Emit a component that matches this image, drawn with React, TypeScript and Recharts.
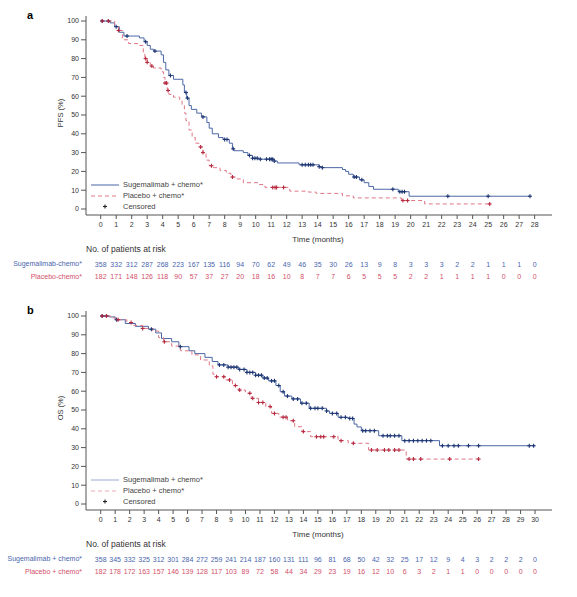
import React from "react";
import { ComposedChart, Line, Scatter, XAxis, YAxis } from "recharts";

// ---- panel a : PFS ----
const pfsMonths = [0, 1, 2, 3, 4, 5, 6, 7, 8, 9, 10, 11, 12, 13, 14, 15, 16, 17, 18, 19, 20, 21, 22, 23, 24, 25, 26, 27, 28];
const pfsSugTime = [0, 0.6, 0.9, 1.2, 1.5, 2.5, 2.8, 3.0, 3.2, 3.4, 3.9, 4.05, 4.2, 4.4, 4.7, 5.3, 5.4, 5.55, 5.7, 5.85, 6.2, 6.5, 6.85, 7.0, 7.2, 7.6, 7.9, 8.3, 8.5, 8.6, 9.2, 9.5, 9.8, 10.2, 11.2, 11.4, 12.8, 14.1, 14.3, 15.6, 15.8, 16.0, 16.3, 16.7, 17.0, 17.3, 17.6, 19.2, 19.9, 27.7];
const pfsSugPct = [100, 99, 97, 94, 92, 91, 89, 87, 85, 84, 82, 78, 74, 71, 69, 66, 62, 59, 55, 53, 51, 49, 46, 43, 40, 38, 37, 35, 32, 31, 30, 28.5, 27, 26.5, 25.5, 24.5, 23.5, 22.5, 22, 21, 20, 18.5, 17, 15.5, 14, 12, 10.5, 9.2, 6.8, 6.8];
const pfsPlaTime = [0, 0.9, 1.15, 1.4, 1.8, 2.5, 2.75, 2.85, 3.0, 3.2, 3.4, 3.9, 4.05, 4.15, 4.3, 4.4, 4.7, 5.1, 5.25, 5.4, 5.5, 5.7, 5.9, 6.1, 6.35, 6.6, 6.8, 7.0, 7.2, 7.7, 8.1, 8.4, 8.8, 9.2, 10.2, 10.6, 12.2, 13.4, 13.9, 15.6, 16.3, 19.4, 20.9, 25.2];
const pfsPlaPct = [100, 97, 95, 90, 88, 87, 83, 80, 78, 76, 75, 73, 70, 67, 63, 61, 59.5, 58, 55, 51, 47, 42, 38, 35, 33, 30, 26, 23, 22, 20.5, 19, 17, 16, 14, 13, 11.5, 9.5, 9, 8.3, 7, 5.9, 4.5, 2.7, 2.7];
const pfsSugCensored = [0.1, 0.5, 1.0, 1.7, 2.9, 3.5, 4.5, 5.5, 5.6, 6.6, 8.0, 8.15, 8.55, 9.6, 9.8, 9.95, 10.1, 10.3, 10.7, 10.9, 11.0, 11.1, 11.2, 13.0, 13.2, 13.4, 13.55, 13.7, 14.1, 14.3, 16.35, 16.5, 16.85, 18.85, 19.3, 19.45, 19.6, 22.4, 25.0, 27.7];
const pfsPlaCensored = [0.1, 0.5, 1.15, 2.9, 3.0, 3.3, 4.15, 4.25, 4.35, 6.45, 6.6, 7.15, 8.5, 11.1, 11.25, 11.35, 11.8, 19.5, 19.8, 25.1];
const pfsSugRisk = [358, 332, 312, 287, 268, 223, 167, 135, 116, 94, 70, 62, 49, 46, 35, 30, 26, 13, 9, 8, 3, 3, 3, 2, 2, 1, 1, 1, 0];
const pfsPlaRisk = [182, 171, 148, 126, 118, 90, 57, 37, 27, 20, 18, 16, 10, 8, 7, 7, 6, 5, 5, 5, 2, 2, 1, 1, 1, 1, 0, 0, 0];

// ---- panel b : OS ----
const osMonths = [0, 1, 2, 3, 4, 5, 6, 7, 8, 9, 10, 11, 12, 13, 14, 15, 16, 17, 18, 19, 20, 21, 22, 23, 24, 25, 26, 27, 28, 29, 30];
const osSugTime = [0, 0.6, 1.0, 1.7, 2.4, 3.3, 3.8, 4.2, 4.9, 5.4, 6.1, 6.5, 7.2, 7.7, 8.1, 8.8, 9.5, 10.1, 10.7, 11.2, 11.6, 12.1, 12.4, 12.7, 13.2, 13.8, 14.4, 15.6, 15.8, 16.4, 17.1, 17.5, 17.7, 18.0, 19.2, 20.8, 23.4, 30.0];
const osSugPct = [100, 99.5, 98, 96, 94.5, 93, 91, 88, 86.3, 83.7, 81.5, 80, 78, 75.8, 74, 72.8, 71.6, 70, 68.5, 67, 65.5, 63, 59.7, 57.4, 55.9, 53.6, 50.9, 49.5, 48.2, 46.1, 45.5, 42.5, 41, 39, 36.3, 33.7, 31, 31];
const osPlaTime = [0, 0.7, 1.1, 1.8, 2.2, 2.9, 3.6, 4.0, 4.35, 4.9, 5.5, 6.3, 6.9, 7.5, 7.75, 8.0, 8.6, 9.1, 9.5, 10.0, 10.4, 10.9, 11.4, 11.8, 12.3, 12.9, 13.4, 13.9, 14.5, 16.4, 17.1, 18.5, 21.1, 26.1];
const osPlaPct = [100, 99, 98, 96.5, 95, 93.4, 92, 88.5, 86.3, 84, 81.5, 79.3, 76.6, 73.5, 69, 67.7, 66, 63, 60.6, 58.9, 56.2, 54, 51.8, 48.2, 46.2, 44.3, 41.1, 38.5, 35.8, 33.7, 32.3, 28.7, 23.9, 23.9];
const osSugCensored = [0.1, 0.4, 1.1, 3.5, 5.5, 8.2, 8.5, 8.8, 9.0, 9.2, 9.4, 9.6, 9.9, 10.1, 10.3, 10.5, 10.7, 10.9, 11.1, 11.3, 11.5, 11.8, 12.0, 12.3, 12.6, 12.9, 13.3, 13.6, 13.9, 14.2, 14.5, 14.8, 15.0, 15.3, 15.6, 16.0, 16.3, 16.6, 16.9, 17.2, 17.4, 18.1, 18.3, 18.6, 18.9, 19.5, 19.8, 20.0, 20.3, 20.6, 21.0, 21.3, 21.6, 21.9, 22.2, 22.5, 22.8, 23.6, 24.0, 24.4, 24.7, 25.4, 26.1, 29.6, 29.9];
const osPlaCensored = [0.1, 0.4, 1.2, 2.1, 2.9, 4.4, 8.0, 8.5, 8.9, 9.3, 9.6, 10.3, 10.5, 10.9, 11.2, 11.7, 12.0, 12.6, 12.8, 13.3, 14.0, 14.9, 15.2, 15.4, 16.1, 16.6, 17.45, 18.7, 19.1, 19.6, 19.9, 20.3, 20.6, 21.3, 21.6, 22.1, 24.1, 26.1];
const osSugRisk = [358, 345, 332, 325, 312, 301, 284, 272, 259, 241, 214, 187, 160, 131, 111, 96, 81, 68, 50, 42, 32, 25, 17, 12, 9, 4, 3, 2, 2, 2, 0];
const osPlaRisk = [182, 178, 172, 163, 157, 146, 139, 128, 117, 103, 89, 72, 58, 44, 34, 29, 23, 19, 16, 12, 10, 6, 3, 2, 1, 1, 0, 0, 0, 0, 0];

const pctTicks = [0, 10, 20, 30, 40, 50, 60, 70, 80, 90, 100];

const FONT = '"Liberation Sans", Arial, sans-serif';
const BLUE = "#4b67a6";
const BLUE_MARK = "#1d3572";
const RED = "#df7685";
const RED_MARK = "#b52a40";
const BLUE_TEXT = "#4a66ae";
const RED_TEXT = "#d2506a";
const AXIS = "#555";

function toSteps(t: number[], s: number[]) {
  return t.map((m, i) => ({ m, s: s[i] }));
}

// value of the KM step curve at a censoring time
function toMarks(times: number[], t: number[], s: number[]) {
  return times.map((m) => {
    let v = s[0];
    for (let i = 0; i < t.length; i++) if (t[i] <= m) v = s[i];
    return { m, s: v };
  });
}

function plus(color: string) {
  return (p: any) => (
    <g stroke={color} strokeWidth={1.1}>
      <line x1={p.cx - 2} x2={p.cx + 2} y1={p.cy} y2={p.cy} />
      <line x1={p.cx} x2={p.cx} y1={p.cy - 2} y2={p.cy + 2} />
    </g>
  );
}

function RiskTick({ x, y, payload, sug, pla }: any) {
  const v = payload.value;
  return (
    <g fontFamily={FONT} fontSize={7} textAnchor="middle" dominantBaseline="central">
      <text x={x} y={y + 3} fill="#333">{v}</text>
      <text x={x} y={y + 43} fill={BLUE_TEXT}>{sug[v]}</text>
      <text x={x} y={y + 55} fill={RED_TEXT}>{pla[v]}</text>
    </g>
  );
}

type PanelProps = {
  top: number;
  letter: string;
  yLabel: string;
  months: number[];
  xDomain: [number, number];
  sug: { m: number; s: number }[];
  pla: { m: number; s: number }[];
  sugMarks: { m: number; s: number }[];
  plaMarks: { m: number; s: number }[];
  sugRisk: number[];
  plaRisk: number[];
  sugName: string;
  plaName: string;
  light?: boolean;
};

function Panel(p: PanelProps) {
  const text = (style: React.CSSProperties, content: React.ReactNode) => (
    <div style={{ position: "absolute", fontFamily: FONT, whiteSpace: "nowrap", lineHeight: 1, ...style }}>
      {content}
    </div>
  );
  return (
    <div style={{ position: "absolute", left: 0, top: p.top, width: 577, height: 295 }}>
      <ComposedChart width={577} height={295} margin={{ top: 16, right: 25, bottom: 0, left: 0 }}>
        <XAxis
          type="number"
          dataKey="m"
          domain={p.xDomain}
          ticks={p.months}
          interval={0}
          allowDataOverflow
          height={80}
          tickSize={4}
          tickMargin={2}
          stroke={AXIS}
          tick={(t: any) => <RiskTick {...t} sug={p.sugRisk} pla={p.plaRisk} />}
        />
        <YAxis
          type="number"
          dataKey="s"
          domain={[-3.19, 102.66]}
          ticks={pctTicks}
          interval={0}
          allowDataOverflow
          width={86}
          tickSize={5}
          tickMargin={2}
          stroke={AXIS}
          tick={{ fontSize: 7, fill: "#333", fontFamily: FONT }}
        />
        <Line data={p.sug} dataKey="s" type="stepAfter" stroke={BLUE} strokeWidth={1} dot={false} isAnimationActive={false} />
        <Line data={p.pla} dataKey="s" type="stepAfter" stroke={RED} strokeWidth={1} strokeDasharray="4 3" dot={false} isAnimationActive={false} />
        <Scatter data={p.sugMarks} dataKey="s" shape={plus(BLUE_MARK)} isAnimationActive={false} />
        <Scatter data={p.plaMarks} dataKey="s" shape={plus(RED_MARK)} isAnimationActive={false} />
      </ComposedChart>

      {text({ left: 27, top: 10, fontSize: 11, fontWeight: "bold" }, p.letter)}
      {text({ left: 61, top: 113, fontSize: 7.5, color: "#333", transform: "translate(-50%,-50%) rotate(-90deg)" }, p.yLabel)}

      <svg style={{ position: "absolute", left: 88, top: 180 }} width={34} height={32}>
        <line x1={3} x2={31} y1={5} y2={5} stroke={p.light ? "#9aaad2" : BLUE} strokeWidth={1} />
        <line x1={3} x2={31} y1={16} y2={16} stroke={p.light ? "#f0aab4" : RED} strokeWidth={1} strokeDasharray="4 3" />
        <g stroke="#222" strokeWidth={1.1}>
          <line x1={15} x2={19} y1={26.5} y2={26.5} />
          <line x1={17} x2={17} y1={24.5} y2={28.5} />
        </g>
      </svg>
      {text({ left: 123, top: 181, fontSize: 7.5, color: "#444" }, "Sugemalimab + chemo*")}
      {text({ left: 123, top: 192, fontSize: 7.5, color: "#444" }, "Placebo + chemo*")}
      {text({ left: 123, top: 203, fontSize: 7.5, color: "#444" }, "Censored")}

      {text({ left: 318, top: 240, fontSize: 8, color: "#333", transform: "translate(-50%,-50%)" }, "Time (months)")}
      {text({ left: 86, top: 245, fontSize: 8.5, color: "#333" }, "No. of patients at risk")}
      {text({ left: 0, width: 82, textAlign: "right", top: 260, fontSize: 7, color: BLUE_TEXT }, p.sugName)}
      {text({ left: 0, width: 82, textAlign: "right", top: 272.5, fontSize: 7, color: RED_TEXT }, p.plaName)}
    </div>
  );
}

export default function App() {
  return (
    <div style={{ position: "absolute", left: 0, top: 0, width: 577, height: 597, background: "#fff", overflow: "hidden" }}>
      <Panel
        top={0}
        letter="a"
        yLabel="PFS (%)"
        months={pfsMonths}
        xDomain={[-0.948, 29.12]}
        sug={toSteps(pfsSugTime, pfsSugPct)}
        pla={toSteps(pfsPlaTime, pfsPlaPct)}
        sugMarks={toMarks(pfsSugCensored, pfsSugTime, pfsSugPct)}
        plaMarks={toMarks(pfsPlaCensored, pfsPlaTime, pfsPlaPct)}
        sugRisk={pfsSugRisk}
        plaRisk={pfsPlaRisk}
        sugName="Sugemalimab-chemo*"
        plaName="Placebo-chemo*"
      />
      <Panel
        top={295}
        letter="b"
        yLabel="OS (%)"
        months={osMonths}
        xDomain={[-1.015, 31.17]}
        sug={toSteps(osSugTime, osSugPct)}
        pla={toSteps(osPlaTime, osPlaPct)}
        sugMarks={toMarks(osSugCensored, osSugTime, osSugPct)}
        plaMarks={toMarks(osPlaCensored, osPlaTime, osPlaPct)}
        sugRisk={osSugRisk}
        plaRisk={osPlaRisk}
        sugName="Sugemalimab + chemo*"
        plaName="Placebo + chemo*"
        light
      />
    </div>
  );
}
